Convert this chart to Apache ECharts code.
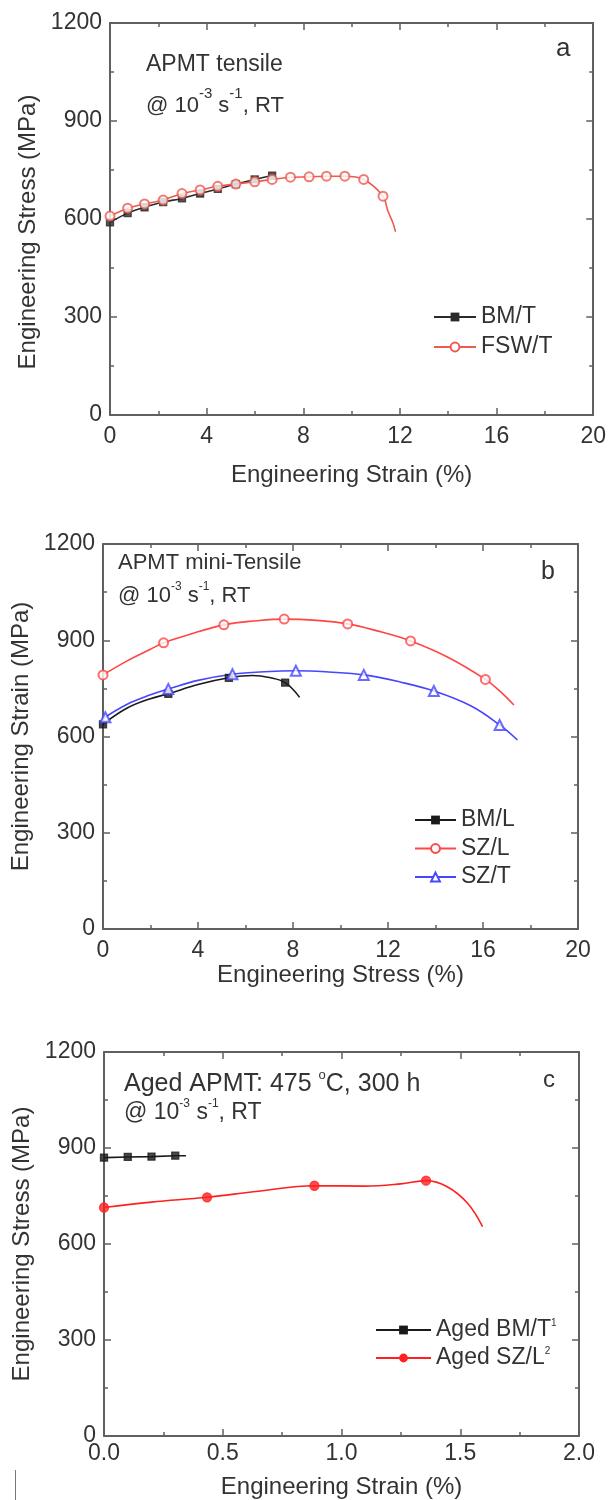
<!DOCTYPE html>
<html><head><meta charset="utf-8">
<script src="https://cdn.jsdelivr.net/npm/echarts@6/dist/echarts.min.js"></script>
<style>html,body{margin:0;padding:0;background:#fff}#c{width:609px;height:1500px}</style>
</head><body><div id="c"></div>
<script>
// ---------- Panel a: APMT tensile ----------
const aBmT_curveX = [0, 0.73, 1.43, 2.2, 2.98, 3.73, 4.46, 5.21, 5.99, 6.71];
const aBmT_curveY = [590, 618, 636, 652, 663, 678, 692, 707, 721, 733];
const aBmT_markX  = [0, 0.73, 1.43, 2.2, 2.98, 3.73, 4.46, 5.21, 5.99, 6.71];
const aBmT_markY  = [590, 618, 636, 652, 663, 678, 692, 707, 721, 733];
const aFswT_curveX = [0, 0.73, 1.43, 2.2, 2.98, 3.73, 4.46, 5.21, 5.99, 6.71, 7.47, 8.24, 8.96, 9.72, 10.5, 11.3, 11.5, 11.7, 11.82];
const aFswT_curveY = [609, 633, 646, 658, 678, 689, 700, 707, 714, 721, 728, 729, 731, 731, 721, 670, 625, 590, 561];
const aFswT_markX  = [0, 0.73, 1.43, 2.2, 2.98, 3.73, 4.46, 5.21, 5.99, 6.71, 7.47, 8.24, 8.96, 9.72, 10.5, 11.3];
const aFswT_markY  = [609, 633, 646, 658, 678, 689, 700, 707, 714, 721, 728, 729, 731, 731, 721, 670];

// ---------- Panel b: APMT mini-Tensile ----------
const bBmL_curveX = [0, 1, 2, 2.75, 4, 5.3, 6.3, 7.0, 7.67, 8.28];
const bBmL_curveY = [638, 688, 718, 733, 762, 783, 790, 784, 768, 722];
const bBmL_markX  = [0, 2.75, 5.3, 7.67];
const bBmL_markY  = [638, 733, 783, 768];
const bSzL_curveX = [0, 1, 2, 2.55, 3.5, 5.09, 6.5, 7.63, 9, 10.3, 11.5, 12.95, 14.5, 16.1, 16.8, 17.3];
const bSzL_curveY = [792, 835, 872, 892, 915, 948, 961, 966, 962, 951, 930, 898, 848, 778, 735, 698];
const bSzL_markX  = [0, 2.55, 5.09, 7.63, 10.3, 12.95, 16.1];
const bSzL_markY  = [792, 892, 948, 966, 951, 898, 778];
const bSzT_curveX = [0, 1, 2, 2.75, 4, 5.45, 6.8, 8.12, 9.5, 10.98, 12.5, 13.93, 15.5, 16.7, 17.45];
const bSzT_curveY = [656, 700, 730, 748, 775, 794, 802, 805, 801, 792, 770, 742, 695, 636, 589];
const bSzT_markX  = [0.1, 2.75, 5.45, 8.12, 10.98, 13.93, 16.7];
const bSzT_markY  = [660, 748, 794, 805, 792, 742, 636];

// ---------- Panel c: Aged APMT ----------
const cBmT_curveX = [0, 0.1, 0.2, 0.3, 0.345];
const cBmT_curveY = [870, 872, 873, 876, 876];
const cBmT_markX  = [0, 0.1, 0.2, 0.3];
const cBmT_markY  = [870, 872, 873, 876];
const cSzL_curveX = [0, 0.2, 0.434, 0.65, 0.886, 1.1, 1.25, 1.356, 1.445, 1.53, 1.594];
const cSzL_curveY = [714, 731, 746, 765, 782, 781, 788, 798, 779, 728, 654];
const cSzL_markX  = [0, 0.434, 0.886, 1.356];
const cSzL_markY  = [714, 746, 782, 798];

// axis ticks
const yTicks = {min: 0, max: 1200, interval: 300};
const xTicksAB = {min: 0, max: 20, interval: 4};
const xTicksC = {min: 0, max: 2, interval: 0.5};

const FONT = '"Liberation Sans", Arial, Helvetica, sans-serif';
const TXT = '#333';
const AX = '#606060';
const zip = (xs, ys) => xs.map((x, i) => [x, ys[i]]);

function axisBase(gi, t) {
  return {gridIndex: gi, type: 'value', min: t.min, max: t.max, interval: t.interval,
    splitLine: {show: false},
    axisLine: {show: true, onZero: false, lineStyle: {color: AX, width: 2}},
    axisTick: {show: true, inside: true, length: 7, lineStyle: {color: AX, width: 1.5}},
    minorTick: {show: true, splitNumber: 2, length: 4, lineStyle: {color: AX, width: 1.5}}};
}
function xAxes(gi, t, name, nameGap, margin, fmt) {
  return [
    Object.assign(axisBase(gi, t), {position: 'bottom', name: name, nameLocation: 'middle', nameGap: nameGap,
      nameTextStyle: {fontFamily: FONT, fontSize: 24, color: TXT},
      axisLabel: {show: true, margin: margin, fontFamily: FONT, fontSize: 23, color: TXT, formatter: fmt || (v => String(v))}}),
    Object.assign(axisBase(gi, t), {position: 'top', axisLabel: {show: false}})
  ];
}
function yAxes(gi, t, name, nameGap, pad) {
  return [
    Object.assign(axisBase(gi, t), {position: 'left', name: name, nameLocation: 'middle', nameGap: nameGap,
      nameTextStyle: {fontFamily: FONT, fontSize: 24, color: TXT, padding: pad || 0},
      axisLabel: {show: true, margin: 8, fontFamily: FONT, fontSize: 23, color: TXT, formatter: v => String(v)}}),
    Object.assign(axisBase(gi, t), {position: 'right', axisLabel: {show: false}})
  ];
}
function curve(name, axIdx, xs, ys, color, symbol, size, smooth) {
  return {name: name, type: 'line', xAxisIndex: axIdx, yAxisIndex: axIdx, data: zip(xs, ys),
    showSymbol: false, symbol: symbol, symbolSize: size, smooth: smooth, animation: false, silent: true,
    lineStyle: {color: color, width: 1.6}, itemStyle: {color: color}};
}
function marks(axIdx, xs, ys, color, symbol, size) {
  return {type: 'scatter', xAxisIndex: axIdx, yAxisIndex: axIdx, data: zip(xs, ys),
    symbol: symbol, symbolSize: size, animation: false, silent: true, z: 3,
    itemStyle: {color: color, borderColor: color, borderWidth: 1.3}};
}

const sup = (fs, lh) => ({fontSize: fs, lineHeight: lh, verticalAlign: 'top', fontFamily: FONT, fill: TXT});
function label(x, y, text, fs, lh, rich) {
  return {type: 'text', x: x, y: y, silent: true,
    style: {text: text, fontFamily: FONT, fontSize: fs, lineHeight: lh, fill: TXT, verticalAlign: 'middle', rich: rich || {}}};
}

const legendBase = (left, top, w, gap, names) => ({
  orient: 'vertical', left: left, top: top, itemWidth: w, itemHeight: 11, itemGap: gap,
  data: names, selectedMode: false,
  textStyle: {fontFamily: FONT, fontSize: 23, color: TXT, lineHeight: 24,
    rich: {s: {fontSize: 10, lineHeight: 24, verticalAlign: 'top', fontFamily: FONT, color: TXT}}}
});

const chart = echarts.init(document.getElementById('c'), null, {renderer: 'canvas'});
const option = {
  backgroundColor: '#fff',
  animation: false,
  grid: [
    {left: 110, top: 23, width: 484, height: 392},
    {left: 103, top: 544, width: 475, height: 385},
    {left: 104, top: 1052, width: 475, height: 384}
  ],
  xAxis: [].concat(
    xAxes(0, xTicksAB, 'Engineering Strain (%)', 48, 10),
    xAxes(1, xTicksAB, 'Engineering Stress (%)', 26, 10),
    xAxes(2, xTicksC, 'Engineering Strain (%)', 39, 6, v => v.toFixed(1))
  ),
  yAxis: [].concat(
    yAxes(0, yTicks, 'Engineering Stress (MPa)', 70, [0, 26, 0, 0]),
    yAxes(1, yTicks, 'Engineering Strain (MPa)', 61),
    yAxes(2, yTicks, 'Engineering Stress (MPa)', 60)
  ),
  legend: [
    legendBase(428, 300, 42, 6, ['BM/T', 'FSW/T']),
    legendBase(409, 803, 41, 4.5, ['BM/L', 'SZ/L', 'SZ/T']),
    Object.assign(legendBase(370, 1313, 55, 4, ['Aged BM/T', 'Aged SZ/L']), {
      formatter: n => n === 'Aged BM/T' ? n + '{s|1}' : n + '{s|2}'
    })
  ],
  series: [
    curve('BM/T', 0, aBmT_curveX, aBmT_curveY, '#2a2a2a', 'rect', 7, 0.2),
    curve('FSW/T', 0, aFswT_curveX, aFswT_curveY, '#ee5a4f', 'emptyCircle', 9, 0.3),
    marks(0, aBmT_markX, aBmT_markY, '#2a2a2a', 'rect', 7),
    marks(0, aFswT_markX, aFswT_markY, '#ee5a4f', 'emptyCircle', 9),

    curve('BM/L', 2, bBmL_curveX, bBmL_curveY, '#1a1a1a', 'rect', 7, 0.4),
    curve('SZ/L', 2, bSzL_curveX, bSzL_curveY, '#ff4646', 'emptyCircle', 9, 0.4),
    curve('SZ/T', 2, bSzT_curveX, bSzT_curveY, '#4646ff', 'emptyTriangle', 10, 0.4),
    marks(2, bBmL_markX, bBmL_markY, '#1a1a1a', 'rect', 7),
    marks(2, bSzL_markX, bSzL_markY, '#ff4646', 'emptyCircle', 9),
    marks(2, bSzT_markX, bSzT_markY, '#4646ff', 'emptyTriangle', 10),

    curve('Aged BM/T', 4, cBmT_curveX, cBmT_curveY, '#1a1a1a', 'rect', 7, 0),
    curve('Aged SZ/L', 4, cSzL_curveX, cSzL_curveY, '#ff2020', 'circle', 9, 0.4),
    marks(4, cBmT_markX, cBmT_markY, '#1a1a1a', 'rect', 7),
    marks(4, cSzL_markX, cSzL_markY, '#ff2020', 'circle', 9)
  ],
  graphic: [
    label(146, 65, 'APMT tensile', 23, 30),
    label(146, 106, '@ 10{s|-3} s{s|-1}, RT', 22, 40, {s: sup(15, 18)}),
    label(556, 49, 'a', 26, 30),
    label(118, 563, 'APMT mini-Tensile', 22, 28),
    label(118, 596, '@ 10{s|-3} s{s|-1}, RT', 22, 30, {s: sup(12, 14)}),
    label(541, 572, 'b', 25, 30),
    label(124, 1084, 'Aged APMT: 475 {s|o}C, 300 h', 25, 30, {s: sup(13, 14)}),
    label(124, 1113, '@ 10{s|-3} s{s|-1}, RT', 23, 30, {s: sup(12, 14)}),
    label(543, 1080, 'c', 24, 30),
    {type: 'line', silent: true, shape: {x1: 15.5, y1: 1470, x2: 15.5, y2: 1500}, style: {stroke: '#777', lineWidth: 1}}
  ]
};
// each grid has [bottom/top] x axes and [left/right] y axes; series use the bottom/left ones (indices 0, 2, 4)
chart.setOption(option);
</script></body></html>
